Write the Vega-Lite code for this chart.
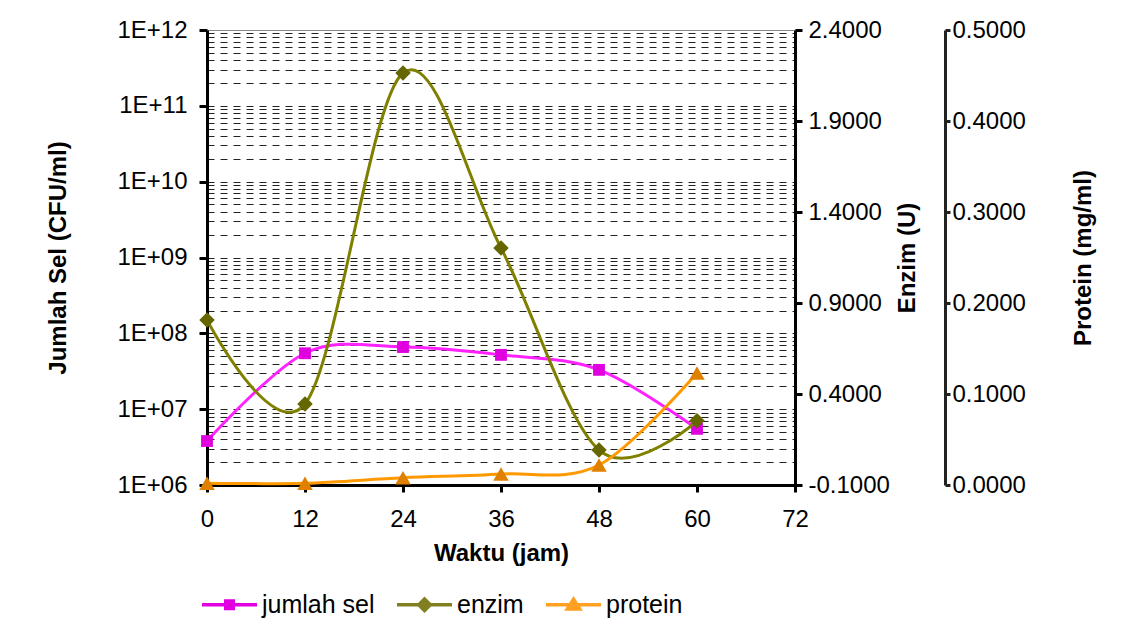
{
  "$schema": "https://vega.github.io/schema/vega-lite/v6.json",
  "autosize": "none",
  "width": 588,
  "height": 455,
  "padding": {"left": 207, "top": 30, "right": 336, "bottom": 142},
  "background": "white",
  "config": {
    "view": {"stroke": null},
    "font": "Liberation Sans",
    "axis": {"labelFont": "Liberation Sans", "titleFont": "Liberation Sans", "labelColor": "#000", "titleColor": "#000", "labelFontSize": 24, "titleFontSize": 24, "titleFontWeight": "bold", "domainColor": "#000", "tickColor": "#000", "domainWidth": 3, "tickWidth": 3}
  },
  "data": {"values": [
    {"t": 0, "sel": 3800000, "enzim": 0.807, "protein": 0.002},
    {"t": 12, "sel": 54600000, "enzim": 0.345, "protein": 0.002},
    {"t": 24, "sel": 66000000, "enzim": 2.164, "protein": 0.008},
    {"t": 36, "sel": 52000000, "enzim": 1.202, "protein": 0.012},
    {"t": 48, "sel": 33000000, "enzim": 0.092, "protein": 0.022},
    {"t": 60, "sel": 5500000, "enzim": 0.253, "protein": 0.123}
  ]},
  "encoding": {
    "x": {"field": "t", "type": "quantitative", "scale": {"domain": [0, 72], "nice": false, "zero": false},
      "axis": {"title": "Waktu (jam)", "values": [0, 12, 24, 36, 48, 60, 72], "grid": false, "tickSize": 7, "labelPadding": 15, "titlePadding": 10, "labelFlush": false}}
  },
  "layer": [
    {
      "encoding": {
        "y": {"field": "sel", "type": "quantitative",
          "scale": {"type": "log", "domain": [1000000, 1000000000000], "nice": false},
          "axis": {"orient": "left", "title": "Jumlah Sel (CFU/ml)", "titlePadding": 46,
            "values": [1000000,2000000,3000000,4000000,5000000,6000000,7000000,8000000,9000000,10000000,20000000,30000000,40000000,50000000,60000000,70000000,80000000,90000000,100000000,200000000,300000000,400000000,500000000,600000000,700000000,800000000,900000000,1000000000,2000000000,3000000000,4000000000,5000000000,6000000000,7000000000,8000000000,9000000000,10000000000,20000000000,30000000000,40000000000,50000000000,60000000000,70000000000,80000000000,90000000000,100000000000,200000000000,300000000000,400000000000,500000000000,600000000000,700000000000,800000000000,900000000000,1000000000000],
            "labelExpr": "abs(log(datum.value)/LN10 - round(log(datum.value)/LN10)) < 0.001 ? '1E+' + (round(log(datum.value)/LN10) < 10 ? '0' : '') + round(log(datum.value)/LN10) : ''",
            "labelOverlap": false, "labelFlush": false, "labelPadding": 12, "tickSize": 8,
            "tickOpacity": {"condition": {"test": "abs(log(datum.value)/LN10 - round(log(datum.value)/LN10)) < 0.001", "value": 1}, "value": 0},
            "grid": true, "gridColor": {"condition": {"test": "datum.value >= 999999999999", "value": "#888888"}, "value": "#222222"},
            "gridDash": {"condition": {"test": "datum.value >= 999999999999", "value": []}, "value": [7, 6]},
            "gridWidth": 1}
        }
      },
      "layer": [
        {"mark": {"type": "line", "interpolate": "cardinal", "stroke": "#FF22FF", "strokeWidth": 3}, "encoding": {}},
        {"mark": {"type": "point", "shape": "square", "filled": true, "size": 140, "color": "#E000E0", "opacity": 1}, "encoding": {}},
        {"mark": {"type": "point", "filled": true, "opacity": 0},
          "encoding": {
            "color": {"datum": "jumlah sel", "type": "nominal", "scale": {"domain": ["jumlah sel", "enzim", "protein"], "range": ["#E000E0", "#808020", "#FFA020"]},
              "legend": {"orient": "none", "direction": "horizontal", "legendX": -5, "legendY": 547, "title": null, "labelFontSize": 25, "labelFont": "Liberation Sans", "labelColor": "#000", "symbolSize": 3025, "symbolOpacity": 1, "symbolStrokeWidth": 0, "labelOffset": 5, "columnPadding": 22, "padding": 0}},
            "shape": {"datum": "jumlah sel", "type": "nominal", "scale": {"domain": ["jumlah sel", "enzim", "protein"], "range": ["M-1,-0.06H1V0.06H-1Z M-0.2,-0.2H0.2V0.2H-0.2Z", "M-1,-0.06H1V0.06H-1Z M0,-0.3L0.3,0L0,0.3L-0.3,0Z", "M-1,-0.06H1V0.06H-1Z M0,-0.32L0.34,0.22L-0.34,0.22Z"]}}
          }}
      ]
    },
    {
      "encoding": {
        "y": {"field": "enzim", "type": "quantitative", "scale": {"domain": [-0.1, 2.4], "nice": false, "zero": false},
          "axis": {"orient": "right", "title": "Enzim (U)", "titleAngle": 270, "titlePadding": 30, "values": [-0.1, 0.4, 0.9, 1.4, 1.9, 2.4], "labelExpr": "datum.value < 0 ? '-' + format(-datum.value, '.4f') : format(datum.value, '.4f')", "grid": false, "tickSize": 7, "labelPadding": 6, "labelFlush": false}}
      },
      "layer": [
        {"mark": {"type": "line", "interpolate": "cardinal", "stroke": "#808000", "strokeWidth": 3}, "encoding": {}},
        {"mark": {"type": "point", "shape": "diamond", "filled": true, "size": 240, "color": "#666600", "opacity": 1}, "encoding": {}}
      ]
    },
    {
      "encoding": {
        "y": {"field": "protein", "type": "quantitative", "scale": {"domain": [0, 0.5], "nice": false, "zero": false},
          "axis": {"orient": "right", "offset": 150, "title": "Protein (mg/ml)", "titleAngle": 270, "titlePadding": 70, "values": [0, 0.1, 0.2, 0.3, 0.4, 0.5], "format": ".4f", "grid": false, "tickSize": 5, "labelPadding": 2, "labelFlush": false, "domainColor": "#222", "tickColor": "#222"}}
      },
      "layer": [
        {"mark": {"type": "line", "interpolate": "cardinal", "stroke": "#FF9900", "strokeWidth": 3}, "encoding": {}},
        {"mark": {"type": "point", "shape": "triangle-up", "filled": true, "size": 240, "color": "#E08000", "opacity": 1}, "encoding": {}}
      ]
    }
  ],
  "resolve": {"scale": {"y": "independent"}}
}
